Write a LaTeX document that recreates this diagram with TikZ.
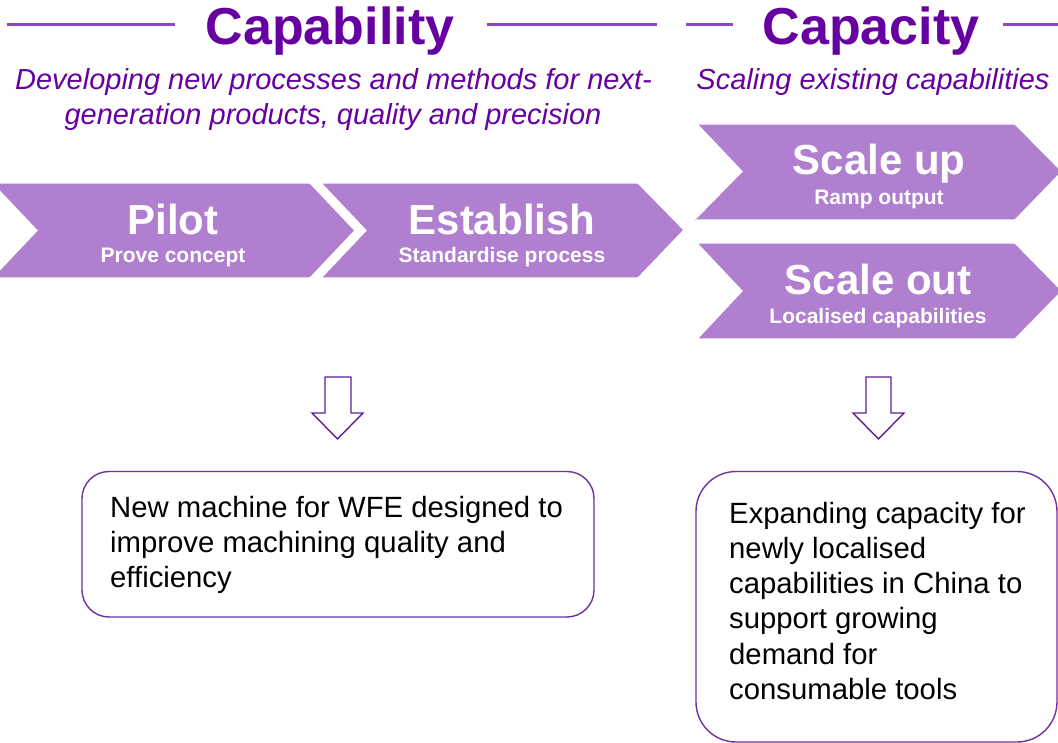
\documentclass[tikz,border=0pt]{standalone}
\usepackage{fontspec}
\setmainfont{Liberation Sans}
\definecolor{titlepurple}{RGB}{102,0,160}
\definecolor{rulepurple}{RGB}{142,70,190}
\definecolor{chev}{RGB}{177,127,208}
\definecolor{arrowpurple}{RGB}{96,30,150}
\definecolor{boxpurple}{RGB}{112,48,160}
\begin{document}
\begin{tikzpicture}[x=1pt,y=-1pt,
 title/.style={text=titlepurple,font=\bfseries\fontsize{52}{52}\selectfont,inner sep=0,anchor=base},
 subt/.style={text=titlepurple,font=\itshape\fontsize{29}{29}\selectfont,inner sep=0,anchor=base},
 rule/.style={draw=rulepurple,line width=3.5pt},
 chevron/.style={fill=chev,draw=white,line width=1.2pt,line join=miter},
 bigtxt/.style={text=white,font=\bfseries\fontsize{42}{42}\selectfont,inner sep=0,anchor=base},
 smalltxt/.style={text=white,font=\bfseries\fontsize{21}{21}\selectfont,inner sep=0,anchor=base},
 downarrow/.style={draw=arrowpurple,fill=white,line width=1.4pt,line join=miter},
 resultbox/.style={draw=boxpurple,line width=1.4pt},
 body/.style={text=black,font=\fontsize{29.3}{29.3}\selectfont,inner sep=0,anchor=base west}]
\useasboundingbox (0,0) rectangle (1058,743);
\clip (0,0) rectangle (1058,743);

% titles and rules
\node[title] (capab) at (330,45) {Capability};
\node[title] (capac) at (871,45) {Capacity};
\draw[rule] (7,24.5) -- (175,24.5);
\draw[rule] (487,24.5) -- (657,24.5);
\draw[rule] (686,24.5) -- (733,24.5);
\draw[rule] (1003,24.5) -- (1058,24.5);

\node[subt] (sub1) at (333.5,90) {Developing new processes and methods for next-};
\node[subt] (sub2) at (333,125) {generation products, quality and precision};
\node[subt] (sub3) at (873,90) {Scaling existing capabilities};

% chevrons
\path[chevron] (-8,183) -- (310,183) -- (355,230.5) -- (310,278) -- (-8,278) -- (37,230.5) -- cycle;
\path[chevron] (321,183) -- (638,183) -- (684,230) -- (638,278) -- (321,278) -- (366,230.5) -- cycle;
\path[chevron] (697,124) -- (1015,124) -- (1062,171.5) -- (1015,220) -- (697,220) -- (685,229.5) -- (742,171.5) -- cycle;
\path[chevron] (685,230.5) -- (697,243) -- (1015,243) -- (1062,291) -- (1015,339) -- (697,339) -- (742,291) -- cycle;

\node[bigtxt] (pilot) at (173,235) {Pilot};
\node[smalltxt] (pilotsub) at (173,263) {Prove concept};
\node[bigtxt] (estab) at (502,235) {Establish};
\node[smalltxt] (estabsub) at (502,263) {Standardise process};
\node[bigtxt] (sup) at (879,175) {Scale up};
\node[smalltxt] (supsub) at (879,205) {Ramp output};
\node[bigtxt] (sout) at (878,295) {Scale out};
\node[smalltxt] (soutsub) at (878,324) {Localised capabilities};

% down arrows
\path[downarrow] (325,377) -- (351,377) -- (351,413) -- (363,413) -- (337.5,439) -- (312,413) -- (325,413) -- cycle;
\path[downarrow] (866,377) -- (891,377) -- (891,413) -- (904,413) -- (878.5,439) -- (853,413) -- (866,413) -- cycle;

% result boxes
\draw[resultbox,rounded corners=27pt] (82,471.5) rectangle (594,617);
\draw[resultbox,rounded corners=40pt] (696,471.5) rectangle (1057,742);

\node[body] (b1) at (110,517) {New machine for WFE designed to};
\node[body] (b2) at (110,552) {improve machining quality and};
\node[body] (b3) at (110,587) {efficiency};

\node[body] (c1) at (729,523) {Expanding capacity for};
\node[body] (c2) at (729,558) {newly localised};
\node[body] (c3) at (729,593) {capabilities in China to};
\node[body] (c4) at (729,628.5) {support growing};
\node[body] (c5) at (729,664) {demand for};
\node[body] (c6) at (729,699) {consumable tools};
\end{tikzpicture}
\end{document}
